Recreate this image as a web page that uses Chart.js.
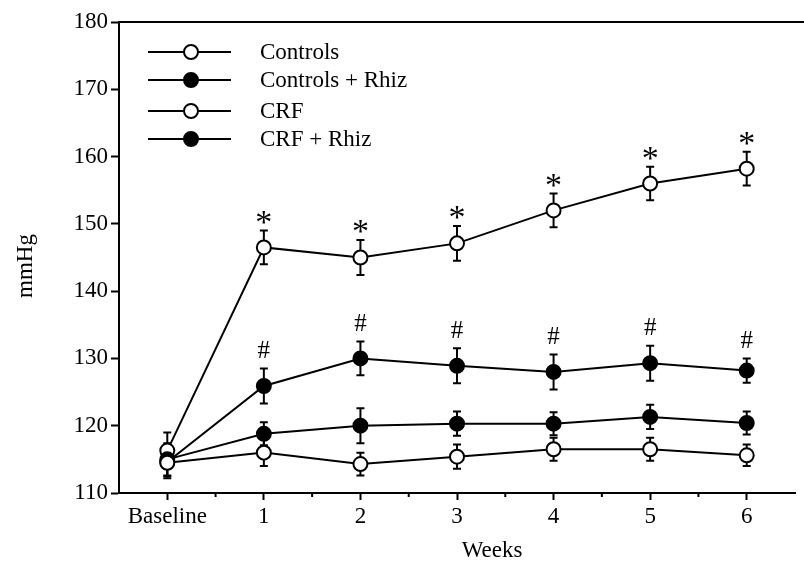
<!DOCTYPE html>
<html>
<head>
<meta charset="utf-8">
<script src="https://cdn.jsdelivr.net/npm/chart.js@4"></script>
<style>
  html, body { margin: 0; padding: 0; background: #fff; }
  #wrap { width: 804px; height: 563px; }
</style>
</head>
<body>
<div id="wrap"><canvas id="bpChart" width="804" height="563"></canvas></div>
<script>
// weeks of treatment, baseline sits at 0
const weekLabels = ['Baseline', '1', '2', '3', '4', '5', '6'];
const weekPos = [0, 1, 2, 3, 4, 5, 6];

// systolic pressure (mmHg) and SEM per group
const controls = [114.5, 116.0, 114.3, 115.4, 116.5, 116.5, 115.6];
const controlsErr = [2.0, 2.0, 1.7, 1.8, 1.7, 1.7, 1.6];
const controlsRhiz = [115.0, 118.8, 120.0, 120.3, 120.3, 121.3, 120.4];
const controlsRhizErr = [2.4, 1.7, 2.6, 1.8, 1.7, 1.8, 1.7];
const crf = [116.3, 146.5, 145.0, 147.1, 152.0, 156.0, 158.2];
const crfErr = [2.7, 2.5, 2.6, 2.6, 2.5, 2.5, 2.5];
const crfRhiz = [114.6, 125.9, 130.0, 128.9, 128.0, 129.3, 128.2];
const crfRhizErr = [2.4, 2.6, 2.5, 2.6, 2.6, 2.6, 1.8];

// significance marks drawn above the error bars
const crfSig = ['', '*', '*', '*', '*', '*', '*'];
const crfRhizSig = ['', '#', '#', '#', '#', '#', '#'];

const FONT = '"Liberation Serif", "DejaVu Serif", serif';

function pts(vals) {
    return vals.map((v, i) => ({ x: weekPos[i], y: v }));
}

function series(label, vals, err, sig, filled) {
    return {
        label: label,
        data: pts(vals),
        err: err,
        sig: sig,
        borderColor: '#000',
        borderWidth: 2,
        pointRadius: 7,
        pointHoverRadius: 7,
        pointBorderWidth: 2,
        pointBorderColor: '#000',
        pointBackgroundColor: filled ? '#000' : '#fff',
        backgroundColor: filled ? '#000' : '#fff',
        tension: 0
    };
}

const errorBars = {
    id: 'errorBars',
    beforeDatasetsDraw(chart) {
        const ctx = chart.ctx;
        const ys = chart.scales.y;
        ctx.save();
        ctx.strokeStyle = '#000';
        ctx.lineWidth = 2;
        chart.data.datasets.forEach((ds, di) => {
            const meta = chart.getDatasetMeta(di);
            meta.data.forEach((pt, i) => {
                const v = ds.data[i].y, e = ds.err[i];
                const top = ys.getPixelForValue(v + e);
                const bot = ys.getPixelForValue(v - e);
                ctx.beginPath();
                ctx.moveTo(pt.x, top); ctx.lineTo(pt.x, bot);
                ctx.moveTo(pt.x - 4, top); ctx.lineTo(pt.x + 4, top);
                ctx.moveTo(pt.x - 4, bot); ctx.lineTo(pt.x + 4, bot);
                ctx.stroke();
            });
        });
        ctx.restore();
    },
    afterDatasetsDraw(chart) {
        const ctx = chart.ctx;
        const ys = chart.scales.y;
        const xs = chart.scales.x;
        const area = chart.chartArea;
        ctx.save();
        // box line along the top
        ctx.strokeStyle = '#000';
        ctx.lineWidth = 2;
        ctx.beginPath();
        ctx.moveTo(area.left, area.top);
        ctx.lineTo(chart.width, area.top);
        ctx.stroke();

        // short minor ticks halfway between weeks
        ctx.beginPath();
        for (let v = 0.5; v < 6.5; v += 1) {
            const px = xs.getPixelForValue(v);
            ctx.moveTo(px, area.bottom);
            ctx.lineTo(px, area.bottom + 4);
        }
        ctx.stroke();

        // * and # above the bars
        ctx.fillStyle = '#000';
        ctx.textAlign = 'center';
        ctx.textBaseline = 'middle';
        chart.data.datasets.forEach((ds, di) => {
            const meta = chart.getDatasetMeta(di);
            meta.data.forEach((pt, i) => {
                const s = ds.sig[i];
                if (!s) return;
                const top = ys.getPixelForValue(ds.data[i].y + ds.err[i]);
                if (s === '*') {
                    ctx.font = '34px ' + FONT;
                    ctx.fillText(s, pt.x, top - 7);
                } else {
                    ctx.font = '25px ' + FONT;
                    ctx.fillText(s, pt.x, top - 17);
                }
            });
        });

        // axis titles
        ctx.font = '23px ' + FONT;
        ctx.fillText('Weeks', 492, 551);
        ctx.save();
        ctx.translate(26, 266);
        ctx.rotate(-Math.PI / 2);
        ctx.fillText('mmHg', 0, 0);
        ctx.restore();

        // legend: line with marker through it
        ctx.font = '23px ' + FONT;
        ctx.textAlign = 'left';
        const rows = [52, 80, 111, 139];
        chart.data.datasets.forEach((ds, di) => {
            const y = rows[di];
            ctx.strokeStyle = '#000';
            ctx.lineWidth = 2;
            ctx.beginPath();
            ctx.moveTo(148, y); ctx.lineTo(231, y);
            ctx.stroke();
            ctx.beginPath();
            ctx.arc(191, y, 7, 0, Math.PI * 2);
            ctx.fillStyle = ds.pointBackgroundColor;
            ctx.fill();
            ctx.stroke();
            ctx.fillStyle = '#000';
            ctx.fillText(ds.label, 260, y + 1);
        });
        ctx.restore();
    }
};

new Chart(document.getElementById('bpChart'), {
    type: 'line',
    data: {
        datasets: [
            series('Controls', controls, controlsErr, weekLabels.map(() => ''), false),
            series('Controls + Rhiz', controlsRhiz, controlsRhizErr, weekLabels.map(() => ''), true),
            series('CRF', crf, crfErr, crfSig, false),
            series('CRF + Rhiz', crfRhiz, crfRhizErr, crfRhizSig, true)
        ]
    },
    options: {
        responsive: false,
        animation: false,
        layout: { padding: { top: 22, right: 2, left: 0, bottom: 0 } },
        plugins: {
            legend: { display: false },
            tooltip: { enabled: false }
        },
        scales: {
            x: {
                type: 'linear',
                min: -0.5,
                max: 6.5,
                afterFit(scale) { scale.height = 70; },
                afterBuildTicks(scale) {
                    scale.ticks = weekPos.map(v => ({ value: v }));
                },
                ticks: {
                    autoSkip: false,
                    maxRotation: 0,
                    padding: 3,
                    color: '#000',
                    font: { family: FONT, size: 23 },
                    callback: (v) => {
                        const i = weekPos.indexOf(v);
                        return i >= 0 ? weekLabels[i] : '';
                    }
                },
                grid: {
                    drawOnChartArea: false,
                    tickLength: 7,
                    tickWidth: 2,
                    tickColor: '#000',
                    color: '#000'
                },
                border: { color: '#000', width: 2 }
            },
            y: {
                min: 110,
                max: 180,
                afterFit(scale) { scale.width = 119; },
                ticks: {
                    stepSize: 10,
                    padding: 3,
                    color: '#000',
                    font: { family: FONT, size: 23 }
                },
                grid: {
                    drawOnChartArea: false,
                    tickLength: 8,
                    tickWidth: 2,
                    tickColor: '#000',
                    color: '#000'
                },
                border: { color: '#000', width: 2 }
            }
        }
    },
    plugins: [errorBars]
});
</script>
</body>
</html>
